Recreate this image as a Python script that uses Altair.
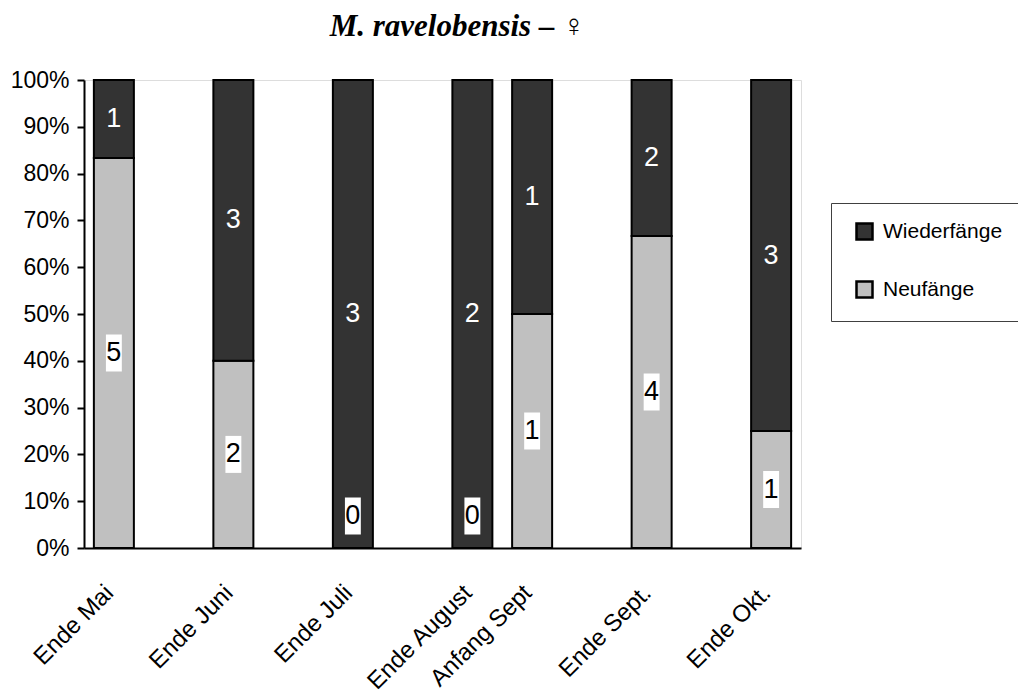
import altair as alt
import pandas as pd

# Zeitpunkte der Fänge; Platzhalter (beginnen mit "_") halten die Lücken auf der Achse frei
achse = ["Ende Mai", "_1", "Ende Juni", "_2", "Ende Juli", "_3", "Ende August",
         "Anfang Sept", "_4", "Ende Sept.", "_5", "Ende Okt."]
perioden = ["Ende Mai", "Ende Juni", "Ende Juli", "Ende August", "Anfang Sept",
            "Ende Sept.", "Ende Okt."]
neufaenge = [5, 2, 0, 0, 1, 4, 1]
wiederfaenge = [1, 3, 3, 2, 1, 2, 3]

serien = ["Wiederfänge", "Neufänge"]
farben = ["#333333", "#c0c0c0"]
prozent_ticks = [0, 0.1, 0.2, 0.3, 0.4, 0.5, 0.6, 0.7, 0.8, 0.9, 1.0]

rows = []
for p, n, w in zip(perioden, neufaenge, wiederfaenge):
    rows.append({"Periode": p, "Fang": "Neufänge", "Anzahl": n, "Rang": 0})
    rows.append({"Periode": p, "Fang": "Wiederfänge", "Anzahl": w, "Rang": 1})
df = pd.DataFrame(rows)

FONT = "Liberation Sans"

base = alt.Chart(df).transform_stack(
    stack="Anzahl",
    groupby=["Periode"],
    as_=["y0", "y1"],
    offset="normalize",
    sort=[alt.SortField("Rang", order="ascending")],
).transform_calculate(mitte="(datum.y0 + datum.y1) / 2")

x_enc = alt.X(
    "Periode:N",
    title=None,
    scale=alt.Scale(domain=achse, paddingInner=0, paddingOuter=0),
    axis=alt.Axis(
        labelAngle=315,
        labelAlign="right",
        labelBaseline="middle",
        labelFont=FONT,
        labelFontSize=24,
        labelColor="black",
        labelPadding=41,
        labelOffset=-4,
        ticks=False,
        domainColor="black",
        domainWidth=2,
        labelOverlap=False,
        labelExpr="indexof(datum.label, '_') == 0 ? '' : datum.label",
    ),
)

y_scale = alt.Scale(domain=[0, 1], nice=False)

bars = base.mark_bar(size=40, stroke="black", strokeWidth=2).encode(
    x=x_enc,
    y=alt.Y(
        "y0:Q",
        title=None,
        scale=y_scale,
        axis=alt.Axis(
            values=prozent_ticks,
            format=".0%",
            grid=False,
            labelFont=FONT,
            labelFontSize=23,
            labelColor="black",
            labelPadding=8,
            tickSize=7,
            tickColor="black",
            tickWidth=2,
            domainColor="black",
            domainWidth=2,
        ),
    ),
    y2="y1:Q",
    color=alt.Color(
        "Fang:N",
        scale=alt.Scale(domain=serien, range=farben),
        legend=alt.Legend(
            title=None,
            orient="none",
            legendX=747,
            legendY=123,
            padding=18,
            fillColor="white",
            strokeColor="#404040",
            symbolType="square",
            symbolSize=256,
            symbolStrokeColor="black",
            symbolStrokeWidth=2.5,
            symbolOpacity=1,
            symbolOffset=5,
            labelFont=FONT,
            labelFontSize=21,
            labelColor="black",
            labelOffset=8,
            rowPadding=31,
        ),
    ),
)

# Werte im dunklen Segment: weiße Schrift ohne Hinterlegung
dunkel = base.transform_filter("datum.Fang == 'Wiederfänge'").mark_text(
    font=FONT, fontSize=27, color="white", baseline="middle", align="center"
).encode(x=x_enc, y=alt.Y("mitte:Q", scale=y_scale), text="Anzahl:Q")

# Werte im hellen Segment: schwarze Schrift auf weißem Kästchen
box_shape = "M-0.43,-1L0.43,-1L0.43,1L-0.43,1Z"
hell = base.transform_filter("datum.Fang == 'Neufänge' && datum.Anzahl > 0")
hell_box = hell.mark_point(
    shape=box_shape, size=1369, filled=True, color="white", opacity=1, strokeWidth=0
).encode(x=x_enc, y=alt.Y("mitte:Q", scale=y_scale))
hell_text = hell.mark_text(
    font=FONT, fontSize=27, color="black", baseline="middle", align="center"
).encode(x=x_enc, y=alt.Y("mitte:Q", scale=y_scale), text="Anzahl:Q")

null = base.transform_filter("datum.Fang == 'Neufänge' && datum.Anzahl == 0")
null_box = null.mark_point(
    shape=box_shape, size=1369, filled=True, color="white", opacity=1,
    strokeWidth=0, yOffset=-32
).encode(x=x_enc, y=alt.Y("mitte:Q", scale=y_scale))
null_text = null.mark_text(
    font=FONT, fontSize=27, color="black", baseline="middle", align="center", yOffset=-32
).encode(x=x_enc, y=alt.Y("mitte:Q", scale=y_scale), text="Anzahl:Q")

chart = alt.layer(
    bars, dunkel, hell_box, hell_text, null_box, null_text
).properties(
    width=717,
    height=468,
    padding={"left": 84, "top": 80, "right": 217, "bottom": 145},
    autosize=alt.AutoSizeParams(type="none"),
    title=alt.TitleParams(
        "M. ravelobensis – ♀",
        font="Liberation Serif",
        fontSize=31,
        fontStyle="italic",
        fontWeight="bold",
        color="black",
        anchor="middle",
        dx=15,
        offset=26,
    ),
).configure_view(
    stroke="black", strokeWidth=2
).configure(background="white")

chart.save("out.html", embed_options={"renderer": "svg", "actions": False})
